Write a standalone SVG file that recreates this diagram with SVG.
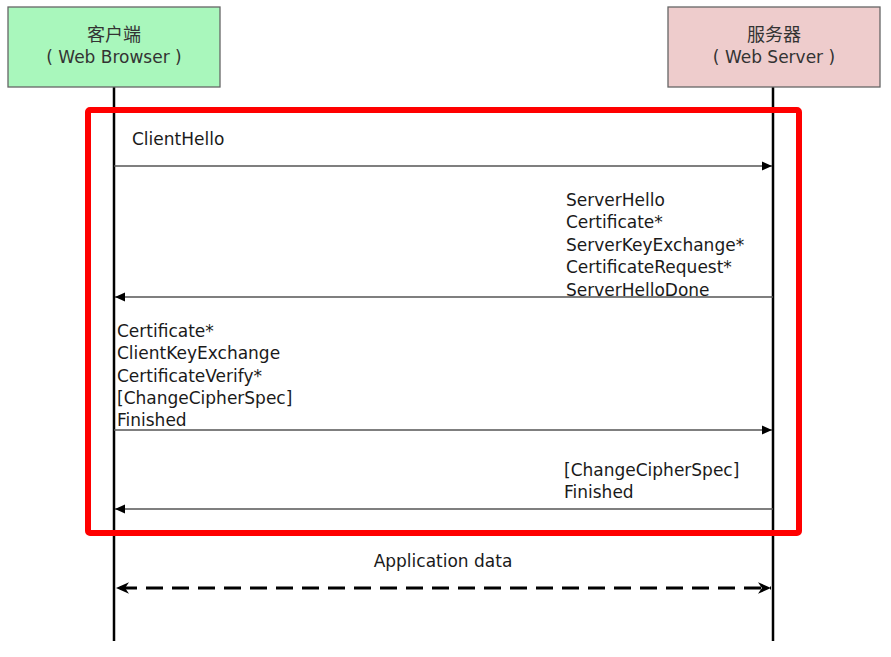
<svg xmlns="http://www.w3.org/2000/svg" width="891" height="657" viewBox="0 0 891 657">
<style>
text{font-family:"DejaVu Sans","Noto Sans CJK SC",sans-serif;font-size:17px;fill:#1a1a1a}
.cjk{font-family:"Noto Sans CJK SC",sans-serif;font-size:18px;fill:#333}
.hd{fill:#333}
.box{stroke:#666;stroke-width:1.3}
.life{stroke:#000;stroke-width:2.5;fill:none}
.msg{stroke:#555;stroke-width:1.3;fill:none}
.c{text-anchor:middle}
</style>
<defs>
<marker id="ah" viewBox="0 0 10 10" refX="10" refY="5" markerWidth="10" markerHeight="10" markerUnits="userSpaceOnUse" orient="auto-start-reverse">
<path d="M0,0.5 L10,5 L0,9.5 Z" fill="#000"/>
</marker>
<marker id="ah2" viewBox="0 0 10 10" refX="10" refY="5" markerWidth="13" markerHeight="13" markerUnits="userSpaceOnUse" orient="auto-start-reverse">
<path d="M0,0.5 L10,5 L0,9.5 L3,5 Z" fill="#000"/>
</marker>
</defs>
<rect width="891" height="657" fill="#fff"/>
<g id="lifelines">
<line class="life" x1="114" y1="87" x2="114" y2="641"/>
<line class="life" x1="773" y1="87" x2="773" y2="641"/>
</g>
<g id="client">
<rect class="box" x="8" y="7" width="212" height="80" fill="#a9f7bc"/>
<text class="c cjk" x="114" y="41">客户端</text>
<text class="c hd" x="114" y="63">( Web Browser )</text>
</g>
<g id="server">
<rect class="box" x="668" y="7" width="212" height="80" fill="#eecccc"/>
<text class="c cjk" x="774" y="41">服务器</text>
<text class="c hd" x="774" y="63">( Web Server )</text>
</g>
<g id="handshake-frame">
<rect x="88" y="110" width="711" height="423" rx="2" fill="none" stroke="#f00" stroke-width="6"/>
</g>
<g id="connectors">
<line class="msg" x1="114" y1="166" x2="772" y2="166" marker-end="url(#ah)"/>
<line class="msg" x1="773" y1="297" x2="115" y2="297" marker-end="url(#ah)"/>
<line class="msg" x1="114" y1="430" x2="772" y2="430" marker-end="url(#ah)"/>
<line class="msg" x1="773" y1="509" x2="115" y2="509" marker-end="url(#ah)"/>
<line x1="116" y1="588" x2="771" y2="588" stroke="#000" stroke-width="3" stroke-dasharray="17,9" stroke-dashoffset="-4" marker-start="url(#ah2)" marker-end="url(#ah2)"/>
</g>
<g id="labels">
<text x="132" y="145">ClientHello</text>
<text x="566" y="206">ServerHello</text>
<text x="566" y="228">Certificate*</text>
<text x="566" y="251">ServerKeyExchange*</text>
<text x="566" y="273">CertificateRequest*</text>
<text x="566" y="296">ServerHelloDone</text>
<text x="117" y="337">Certificate*</text>
<text x="117" y="359">ClientKeyExchange</text>
<text x="117" y="382">CertificateVerify*</text>
<text x="117" y="404">[ChangeCipherSpec]</text>
<text x="117" y="426">Finished</text>
<text x="564" y="476">[ChangeCipherSpec]</text>
<text x="564" y="498">Finished</text>
<text class="c" x="443" y="567">Application data</text>
</g>
</svg>
